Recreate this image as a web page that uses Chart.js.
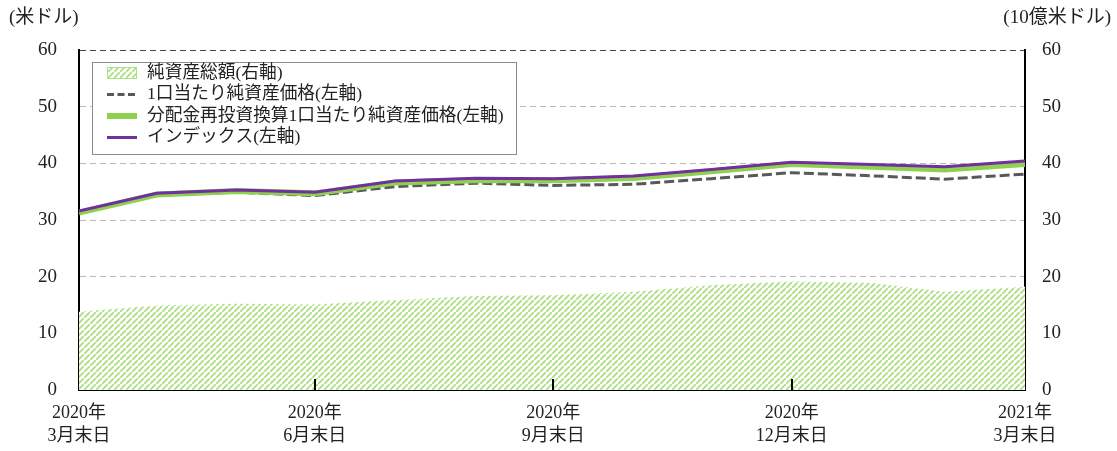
<!DOCTYPE html>
<html lang="ja">
<head>
<meta charset="utf-8">
<script src="https://cdn.jsdelivr.net/npm/chart.js@4.4.1/dist/chart.umd.min.js"></script>
<style>
  body { margin: 0; background: #fff; }
  #wrap { width: 1117px; height: 451px; position: relative; }
</style>
</head>
<body>
<div id="wrap"><canvas id="chart"></canvas></div>
<script>
// === データ（各月末） ===
const years  = [2020, 2020, 2020, 2020, 2020, 2020, 2020, 2020, 2020, 2020, 2021, 2021, 2021];
const months = [3, 4, 5, 6, 7, 8, 9, 10, 11, 12, 1, 2, 3];
const labelIdx = [0, 3, 6, 9, 12];

const netAssets   = [13.8, 14.9, 15.2, 15.1, 15.9, 16.6, 16.7, 17.35, 18.5, 19.2, 18.9, 17.35, 18.2]; // 右軸
const navPerUnit  = [31.3, 34.4, 34.9, 34.3, 35.9, 36.5, 36.1, 36.3, 37.3, 38.35, 37.8, 37.2, 38.1];
const navReinvest = [31.3, 34.5, 35.1, 34.7, 36.6, 37.0, 37.0, 37.4, 38.6, 39.9, 39.4, 38.9, 39.9];
const indexLine   = [31.6, 34.7, 35.3, 34.9, 36.9, 37.35, 37.3, 37.75, 38.9, 40.2, 39.8, 39.4, 40.4];

const yTicksMin = 0, yTicksMax = 60, yStep = 10;

// 月末日を基準日からの日数に
const DAY = 86400000;
const base = Date.UTC(years[0], months[0], 0);
const days = years.map((y, i) => Math.round((Date.UTC(y, months[i], 0) - base) / DAY));
const pts = arr => arr.map((v, i) => ({ x: days[i], y: v }));

const FONT = "'Liberation Serif', 'Noto Sans CJK JP', serif";
const GREEN = '#8fd14f';
const PURPLE = '#7030a0';
const GRAY = '#595959';
const HATCH = '#ade083';

// 斜線パターン
function hatchPattern() {
  const n = 6;
  const c = document.createElement('canvas');
  c.width = n; c.height = n;
  const g = c.getContext('2d');
  g.fillStyle = '#fff';
  g.fillRect(0, 0, n, n);
  g.strokeStyle = HATCH;
  g.lineWidth = 1.8;
  g.beginPath();
  g.moveTo(-1, n + 1); g.lineTo(n + 1, -1);
  g.moveTo(-1 - n, 1); g.lineTo(1, -1 - n);
  g.moveTo(n - 1, 2 * n + 1); g.lineTo(2 * n + 1, n - 1);
  g.stroke();
  return g.createPattern(c, 'repeat');
}
const hatch = hatchPattern();

// === 凡例・軸タイトル・目盛り ===
const decorPlugin = {
  id: 'decor',
  afterDraw(chart) {
    const ctx = chart.ctx;
    const x = chart.scales.x;
    const area = chart.chartArea;
    ctx.save();

    // x軸の内向き目盛り
    ctx.strokeStyle = '#000';
    ctx.lineWidth = 2;
    [3, 6, 9].forEach(i => {
      const px = Math.round(x.getPixelForValue(days[i]));
      ctx.beginPath();
      ctx.moveTo(px, area.bottom);
      ctx.lineTo(px, area.bottom - 11);
      ctx.stroke();
    });

    // 軸タイトル
    ctx.fillStyle = '#222';
    ctx.font = '19px ' + FONT;
    ctx.textBaseline = 'middle';
    ctx.textAlign = 'left';
    ctx.fillText('(米ドル)', 9, 18);
    ctx.textAlign = 'right';
    ctx.fillText('(10億米ドル)', 1111, 18);

    // 凡例
    const bx = 92, by = 62, bw = 424, bh = 92;
    ctx.fillStyle = '#fff';
    ctx.fillRect(bx, by, bw, bh);
    ctx.strokeStyle = '#8c8c8c';
    ctx.lineWidth = 1;
    ctx.strokeRect(bx + 0.5, by + 0.5, bw, bh);

    const rows = [73, 94.5, 116, 137.5];
    const sx = 107, sw = 30;
    chart.data.datasets.slice().sort((a, b) => b.order - a.order).forEach((ds, k) => {
      const ry = rows[k];
      if (ds.fill) {
        ctx.fillStyle = hatch;
        ctx.fillRect(sx, ry - 6, sw, 12);
        ctx.strokeStyle = HATCH;
        ctx.strokeRect(sx + 0.5, ry - 5.5, sw - 1, 11);
      } else {
        ctx.strokeStyle = ds.borderColor;
        ctx.lineWidth = ds.borderWidth;
        ctx.setLineDash(ds.borderDash ? [7, 3.5] : []);
        ctx.beginPath();
        ctx.moveTo(sx, ry);
        ctx.lineTo(sx + sw, ry);
        ctx.stroke();
        ctx.setLineDash([]);
      }
      ctx.fillStyle = '#222';
      ctx.font = '17.7px ' + FONT;
      ctx.textAlign = 'left';
      ctx.textBaseline = 'middle';
      ctx.fillText(ds.label, 147, ry);
    });
    ctx.restore();
  }
};

new Chart(document.getElementById('chart').getContext('2d'), {
  type: 'line',
  data: {
    datasets: [
      {
        label: 'インデックス(左軸)',
        data: pts(indexLine),
        yAxisID: 'y',
        borderColor: PURPLE,
        borderWidth: 3,
        pointRadius: 0,
        order: 0
      },
      {
        label: '分配金再投資換算1口当たり純資産価格(左軸)',
        data: pts(navReinvest),
        yAxisID: 'y',
        borderColor: GREEN,
        borderWidth: 6,
        pointRadius: 0,
        order: 1
      },
      {
        label: '1口当たり純資産価格(左軸)',
        data: pts(navPerUnit),
        yAxisID: 'y',
        borderColor: GRAY,
        borderWidth: 3,
        borderDash: [10, 4],
        pointRadius: 0,
        order: 2
      },
      {
        label: '純資産総額(右軸)',
        data: pts(netAssets),
        yAxisID: 'y2',
        borderWidth: 0,
        backgroundColor: hatch,
        fill: 'origin',
        pointRadius: 0,
        order: 3
      }
    ]
  },
  options: {
    responsive: true,
    maintainAspectRatio: false,
    animation: false,
    layout: { padding: { top: 50, left: 0, right: 0, bottom: 0 } },
    plugins: {
      legend: { display: false },
      tooltip: { enabled: false }
    },
    scales: {
      x: {
        type: 'linear',
        min: days[0],
        max: days[days.length - 1],
        afterFit(s) { s.height = 61; },
        afterBuildTicks(s) { s.ticks = labelIdx.map(i => ({ value: days[i] })); },
        grid: { display: false, drawTicks: false },
        border: { display: true, color: '#000', width: 2 },
        ticks: {
          autoSkip: false,
          maxRotation: 0,
          padding: 12,
          color: '#222',
          font: { family: FONT, size: 18, lineHeight: 1.28 },
          callback(v) {
            const i = days.indexOf(v);
            if (i < 0) return '';
            return [years[i] + '年', months[i] + '月末日'];
          }
        }
      },
      y: {
        position: 'left',
        min: yTicksMin,
        max: yTicksMax,
        afterFit(s) { s.width = 79; },
        grid: {
          drawTicks: false,
          lineWidth: 1,
          color(c) {
            if (c.tick.value === yTicksMax) return '#444';
            if (c.tick.value === yTicksMin) return 'rgba(0,0,0,0)';
            return '#b8b8b8';
          }
        },
        border: { display: true, color: '#000', width: 2, dash: [6, 4] },
        ticks: {
          stepSize: yStep,
          padding: 22,
          color: '#222',
          font: { family: FONT, size: 19 }
        }
      },
      y2: {
        position: 'right',
        min: yTicksMin,
        max: yTicksMax,
        afterFit(s) { s.width = 92; },
        grid: { display: false, drawTicks: false },
        border: { display: true, color: '#000', width: 2 },
        ticks: {
          stepSize: yStep,
          padding: 17,
          color: '#222',
          font: { family: FONT, size: 19 }
        }
      }
    }
  },
  plugins: [decorPlugin]
});
</script>
</body>
</html>
